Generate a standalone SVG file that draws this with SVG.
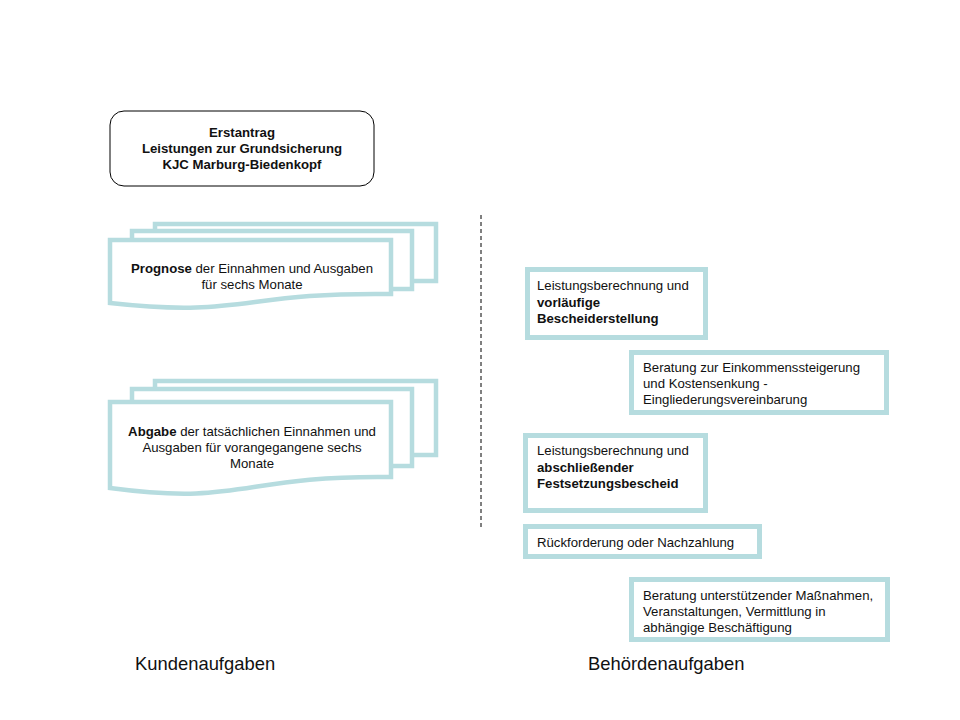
<svg xmlns="http://www.w3.org/2000/svg" width="960" height="720" viewBox="0 0 960 720">
<style>
text{font-family:"Liberation Sans",Arial,sans-serif;font-size:13.2px;fill:#111}
.b{font-weight:bold}
.c{text-anchor:middle}
.t{fill:#fff;stroke:#b6dcdf;stroke-width:4.5;stroke-linejoin:miter}
.bx{fill:#fff;stroke:#b6dcdf;stroke-width:5}
.lab{font-size:18.4px}
</style>
<rect width="960" height="720" fill="#fff"/>
<g id="connectors">
<line x1="481" y1="215" x2="481" y2="527" stroke="#000" stroke-width="1" stroke-dasharray="4,3"/>
</g>
<g id="erstantrag">
<rect x="110" y="111" width="264" height="75" rx="14" fill="#fff" stroke="#000" stroke-width="1"/>
<text class="b c" x="242" y="136.5">Erstantrag</text>
<text class="b c" x="242" y="152.5">Leistungen zur Grundsicherung</text>
<text class="b c" x="242" y="168.5">KJC Marburg-Biedenkopf</text>
</g>
<g id="prognose">
<rect class="t" x="155" y="224" width="281" height="57"/>
<rect class="t" x="132" y="231" width="280" height="58"/>
<path class="t" d="M110,240 H391 V294 C240,292 245,318 110,303 Z"/>
<text class="c" x="252" y="273"><tspan class="b">Prognose</tspan> der Einnahmen und Ausgaben</text>
<text class="c" x="252" y="289">für sechs Monate</text>
</g>
<g id="abgabe">
<rect class="t" x="155" y="381" width="281" height="74"/>
<rect class="t" x="132" y="389" width="280" height="77"/>
<path class="t" d="M110,402 H391 V477 C240,475 245,506 110,488 Z"/>
<text class="c" x="252" y="436"><tspan class="b">Abgabe</tspan> der tatsächlichen Einnahmen und</text>
<text class="c" x="252" y="452">Ausgaben für vorangegangene sechs</text>
<text class="c" x="252" y="468">Monate</text>
</g>
<g id="box1">
<rect class="bx" x="527.5" y="269.5" width="178" height="68"/>
<text x="537" y="290">Leistungsberechnung und</text>
<text class="b" x="537" y="307">vorläufige</text>
<text class="b" x="537" y="323">Bescheiderstellung</text>
</g>
<g id="box2">
<rect class="bx" x="631.5" y="352.5" width="255" height="60"/>
<text x="643" y="372">Beratung zur Einkommenssteigerung</text>
<text x="643" y="388">und Kostensenkung -</text>
<text x="643" y="404">Eingliederungsvereinbarung</text>
</g>
<g id="box3">
<rect class="bx" x="525.5" y="435.5" width="180" height="75"/>
<text x="537" y="455">Leistungsberechnung und</text>
<text class="b" x="537" y="472">abschließender</text>
<text class="b" x="537" y="488">Festsetzungsbescheid</text>
</g>
<g id="box4">
<rect class="bx" x="525.5" y="526.5" width="234" height="30"/>
<text x="537" y="547">Rückforderung oder Nachzahlung</text>
</g>
<g id="box5">
<rect class="bx" x="631.5" y="579.5" width="256" height="60"/>
<text x="643" y="600">Beratung unterstützender Maßnahmen,</text>
<text x="643" y="616">Veranstaltungen, Vermittlung in</text>
<text x="643" y="632">abhängige Beschäftigung</text>
</g>
<g id="labels">
<text class="lab" x="135" y="670">Kundenaufgaben</text>
<text class="lab" x="588" y="670">Behördenaufgaben</text>
</g>
</svg>
